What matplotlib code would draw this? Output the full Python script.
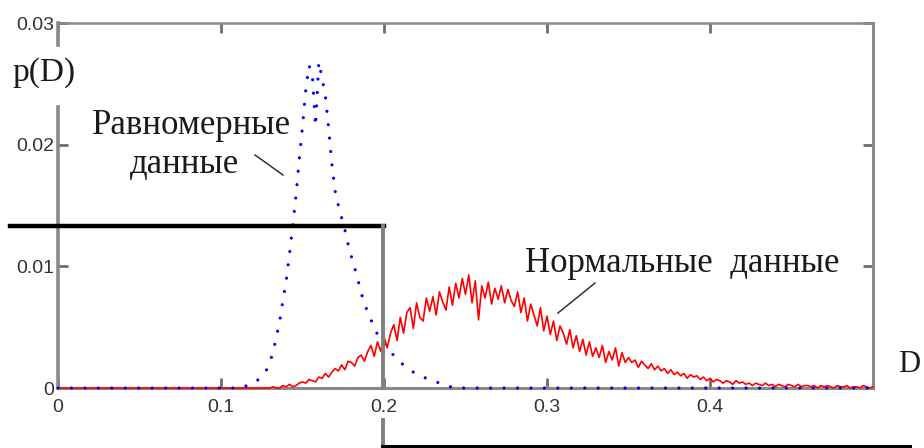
import numpy as np
import matplotlib
matplotlib.use('Agg')
import matplotlib.pyplot as plt
from matplotlib.lines import Line2D

step = 0.002

# "Нормальные данные" (red), p(D) in units of 1e-4, D from norm_start
norm_start = 0.130
norm_p = [0, 1, 0, 0, 2, 1, 3, 1, 2, 4,
          5, 4, 7, 6, 5, 9, 8, 12, 9, 13,
          16, 14, 19, 15, 22, 21, 18, 25, 27, 22,
          30, 35, 26, 38, 30, 42, 33, 45, 52, 39,
          58, 45, 62, 66, 49, 70, 58, 55, 74, 63,
          75, 60, 79, 71, 64, 83, 68, 86, 74, 90,
          77, 93, 70, 88, 56, 84, 74, 87, 69, 82,
          73, 84, 70, 81, 72, 67, 79, 62, 74, 55,
          69, 60, 51, 66, 47, 59, 44, 55, 39, 51,
          45, 36, 48, 33, 43, 30, 40, 27, 38, 26,
          33, 25, 35, 21, 30, 23, 33, 18, 29, 21,
          25, 21, 23, 17, 22, 19, 16, 20, 15, 18,
          14, 16, 12, 15, 11, 13, 10, 12, 8, 11,
          9, 10, 7, 9, 6, 8, 5, 7, 6, 4,
          6, 5, 3, 6, 4, 5, 3, 4, 2, 4,
          3, 2, 4, 2, 3, 1, 3, 2, 1, 3,
          2, 1, 3, 1, 2, 2, 1, 2, 0, 2,
          1, 2, 1, 0, 2, 1, 1, 2, 0, 1,
          1, 0, 2, 1, 0, 1]

# "Равномерные данные" (blue dotted), p(D) in units of 1e-4, D from uni_start
uni_start = 0.110
uni_p = [0, 1, 1, 2, 3, 4, 6, 8, 11, 15,
         21, 30, 42, 55, 72, 88, 110, 133, 158, 188,
         215, 245, 265, 258, 215, 268, 255, 240, 214, 184,
         162, 150, 140, 130, 118, 108, 99, 89, 78, 70,
         62, 56, 50, 44, 40, 36, 32, 29, 27, 24,
         21, 19, 17, 15, 13, 11, 10, 9, 8, 7,
         6, 5, 4, 3, 2, 1, 1, 0]

x_ticks = [0, 0.1, 0.2, 0.3, 0.4]
x_labels = ['0', '0.1', '0.2', '0.3', '0.4']
y_ticks = [0, 0.01, 0.02, 0.03]
y_labels = ['0', '0.01', '0.02', '0.03']

W, H = 924, 448


def fx(px):
    return px / W


def fy(py):
    return 1 - py / H


norm_x = np.concatenate([[0.0], norm_start + step * np.arange(len(norm_p))])
norm_y = np.concatenate([[0.0], np.array(norm_p) * 1e-4])
uni_x = np.concatenate([[0.0], uni_start + step * np.arange(len(uni_p)), [0.5]])
uni_y = np.concatenate([[0.0], np.array(uni_p) * 1e-4, [0.0]])

fig = plt.figure(figsize=(W / 100, H / 100), dpi=100)
ax = fig.add_axes([fx(58), fy(388), fx(873) - fx(58), fy(23) - fy(388)])
ax.set_xlim(0, 0.5)
ax.set_ylim(0, 0.03)

ax.plot(norm_x, norm_y, color='#ff0000', lw=1.2, clip_on=False, zorder=4)
ax.plot(uni_x, uni_y, color='#0000ff', lw=2.3, linestyle=(0, (0.01, 4.2)),
        dash_capstyle='round', clip_on=False, zorder=5)

spine_col = '#8a8a8a'
for s in ['top', 'right', 'bottom']:
    ax.spines[s].set_color(spine_col)
ax.spines['top'].set_linewidth(1.8)
ax.spines['right'].set_linewidth(2.2)
ax.spines['bottom'].set_linewidth(2.2)
ax.spines['left'].set_visible(False)
# left axis is broken where the p(D) label sits
for y0, y1 in [(0, (388 - 107) / 365), ((388 - 45) / 365, 1)]:
    ax.add_line(Line2D([0, 0], [y0, y1], transform=ax.transAxes, color=spine_col,
                       lw=2.6, clip_on=False, zorder=2.5))

ax.set_xticks(x_ticks)
ax.set_xticklabels(x_labels)
ax.set_yticks(y_ticks)
ax.set_yticklabels(y_labels)
ax.tick_params(direction='in', length=7, width=2, color='#6e6e6e', top=True, right=True,
               labelsize=14, labelcolor='#333333', labelfontfamily='Liberation Sans')
ax.tick_params(axis='x', pad=8)
ax.tick_params(axis='y', pad=3)

serif = 'Liberation Serif'
txt = '#1a1a1a'
fig.text(fx(12), fy(73), 'p(D)', fontsize=24, family=serif, color=txt, va='center', ha='left')
fig.text(fx(92), fy(126), 'Равномерные', fontsize=25, family=serif, color=txt, va='center', ha='left')
fig.text(fx(130), fy(164), 'данные', fontsize=25, family=serif, color=txt, va='center', ha='left')
fig.text(fx(525), fy(264), 'Нормальные  данные', fontsize=25, family=serif, color=txt,
         va='center', ha='left')
fig.text(fx(898), fy(364), 'D', fontsize=22, family=serif, color=txt, va='center', ha='left')

# leader lines
fig.add_artist(Line2D([fx(255), fx(283)], [fy(155), fy(175)], color='#333333', lw=1.1))
fig.add_artist(Line2D([fx(595), fx(558)], [fy(283), fy(313)], color='#333333', lw=1.1))

# bracket drawn over the chart
fig.add_artist(Line2D([fx(10), fx(384)], [fy(226), fy(226)], color='black', lw=3.2, zorder=6))
fig.add_artist(Line2D([fx(383), fx(383)], [fy(226), fy(388)], color='#808080', lw=2.8, zorder=6))
fig.add_artist(Line2D([fx(383), fx(383)], [fy(420), fy(446)], color='#808080', lw=2.8, zorder=6))
fig.add_artist(Line2D([fx(382), fx(910)], [fy(446), fy(446)], color='black', lw=2.2, zorder=6))

fig.savefig('out.png', dpi=100)
